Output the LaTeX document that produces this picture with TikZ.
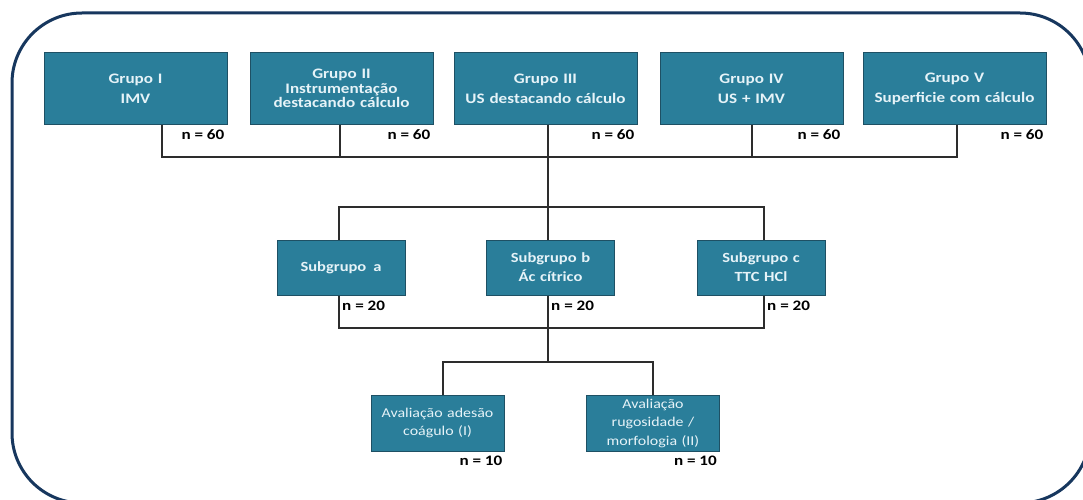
\documentclass[tikz,border=0pt]{standalone}
\usepackage{fontspec}
\setmainfont{Carlito}
\newfontfamily\calw[FakeStretch=1.18]{Carlito}
\definecolor{boxfill}{RGB}{42,126,154}
\definecolor{boxline}{RGB}{30,80,100}
\definecolor{boxtext}{RGB}{230,243,248}
\definecolor{framec}{RGB}{23,55,94}
\definecolor{connc}{RGB}{45,45,45}
\begin{document}
\begin{tikzpicture}[x=1pt,y=-1pt,
  basebox/.style={draw=boxline, line width=1pt, fill=boxfill, text=boxtext,
    align=center, inner sep=0pt},
  topbox/.style={basebox, text width=183pt, minimum height=71pt,
    font=\calw\bfseries\fontsize{14.5}{20}\selectfont},
  tightbox/.style={font=\calw\bfseries\fontsize{14.5}{14.5}\selectfont},
  subbox/.style={basebox, text width=128pt, minimum height=55pt,
    font=\calw\bfseries\fontsize{14}{19}\selectfont},
  evbox/.style={basebox, text width=133pt, minimum height=56pt,
    font=\calw\fontsize{13.5}{18.5}\selectfont},
  nlab/.style={inner sep=0pt, text=black, font=\calw\bfseries\fontsize{14.5}{16}\selectfont},
  conn/.style={draw=connc, line width=1.6pt},
  framestyle/.style={draw=framec, line width=3pt, rounded corners=70pt}]
\useasboundingbox (0,0) rectangle (1083,500);
\clip (0,0) rectangle (1083,500);
\fill[white] (0,0) rectangle (1083,500);
\draw[framestyle] (12,13) rectangle (1090,503);

% top level
\node[topbox] (g1) at (135.5,88.5) {Grupo I\\IMV};
\node[topbox,tightbox] (g2) at (341.5,88.5) {Grupo II\\Instrumentação\\destacando cálculo};
\node[topbox] (g3) at (545.5,88.5) {Grupo III\\US destacando cálculo};
\node[topbox] (g4) at (751.5,88.5) {Grupo IV\\US + IMV};
\node[topbox] (g5) at (954.5,88.5) {Grupo V\\Superficie com cálculo};

% subgroups
\node[subbox] (sa) at (341,267.5) {Subgrupo\enspace a};
\node[subbox] (sb) at (550.5,267.5) {Subgrupo b\\Ác cítrico};
\node[subbox] (sc) at (761,267.5) {Subgrupo c\\TTC HCl};

% evaluations
\node[evbox] (a1) at (437.5,423) {Avaliação adesão\\coágulo (I)};
\node[evbox] (a2) at (653,423) {Avaliação\\rugosidade /\\morfologia (II)};

% junctions
\coordinate (j1) at (548,157);
\coordinate (j2) at (548,207);
\coordinate (j3) at (548,328);
\coordinate (j4) at (548,362);

% connectors
\draw[conn] (g3.south -| j1) -- (sb.north -| j1);
\draw[conn] ([xshift=26.5pt]g1.south) |- (j1);
\draw[conn] ([xshift=-1.5pt]g2.south) |- (j1);
\draw[conn] ([xshift=0.5pt]g4.south) |- (j1);
\draw[conn] ([xshift=2.5pt]g5.south) |- (j1);
\draw[conn] ([xshift=-2pt]sa.north) |- (j2);
\draw[conn] ([xshift=3pt]sc.north) |- (j2);
\draw[conn] ([xshift=-2pt]sa.south) |- (j3);
\draw[conn] ([xshift=3pt]sc.south) |- (j3);
\draw[conn] (sb.south -| j3) -- (j4);
\draw[conn] ([xshift=5.5pt]a1.north) |- (j4);
\draw[conn] (a2.north) |- (j4);

% n labels
\node[nlab, anchor=east] (n1) at ([xshift=-3pt,yshift=-10pt]g1.south east) {n = 60};
\node[nlab, anchor=east] (n2) at ([xshift=-3pt,yshift=-10pt]g2.south east) {n = 60};
\node[nlab, anchor=east] (n3) at ([xshift=-3pt,yshift=-10pt]g3.south east) {n = 60};
\node[nlab, anchor=east] (n4) at ([xshift=-3pt,yshift=-10pt]g4.south east) {n = 60};
\node[nlab, anchor=east] (n5) at ([xshift=-3pt,yshift=-10pt]g5.south east) {n = 60};
\node[nlab, anchor=west] (n6) at ([xshift=1pt,yshift=-10pt]sa.south) {n = 20};
\node[nlab, anchor=west] (n7) at ([xshift=0.5pt,yshift=-10pt]sb.south) {n = 20};
\node[nlab, anchor=west] (n8) at ([xshift=6pt,yshift=-10pt]sc.south) {n = 20};
\node[nlab, anchor=east] (n9) at ([xshift=-2pt,yshift=-9pt]a1.south east) {n = 10};
\node[nlab, anchor=east] (n10) at ([xshift=-3pt,yshift=-9pt]a2.south east) {n = 10};
\end{tikzpicture}
\end{document}
